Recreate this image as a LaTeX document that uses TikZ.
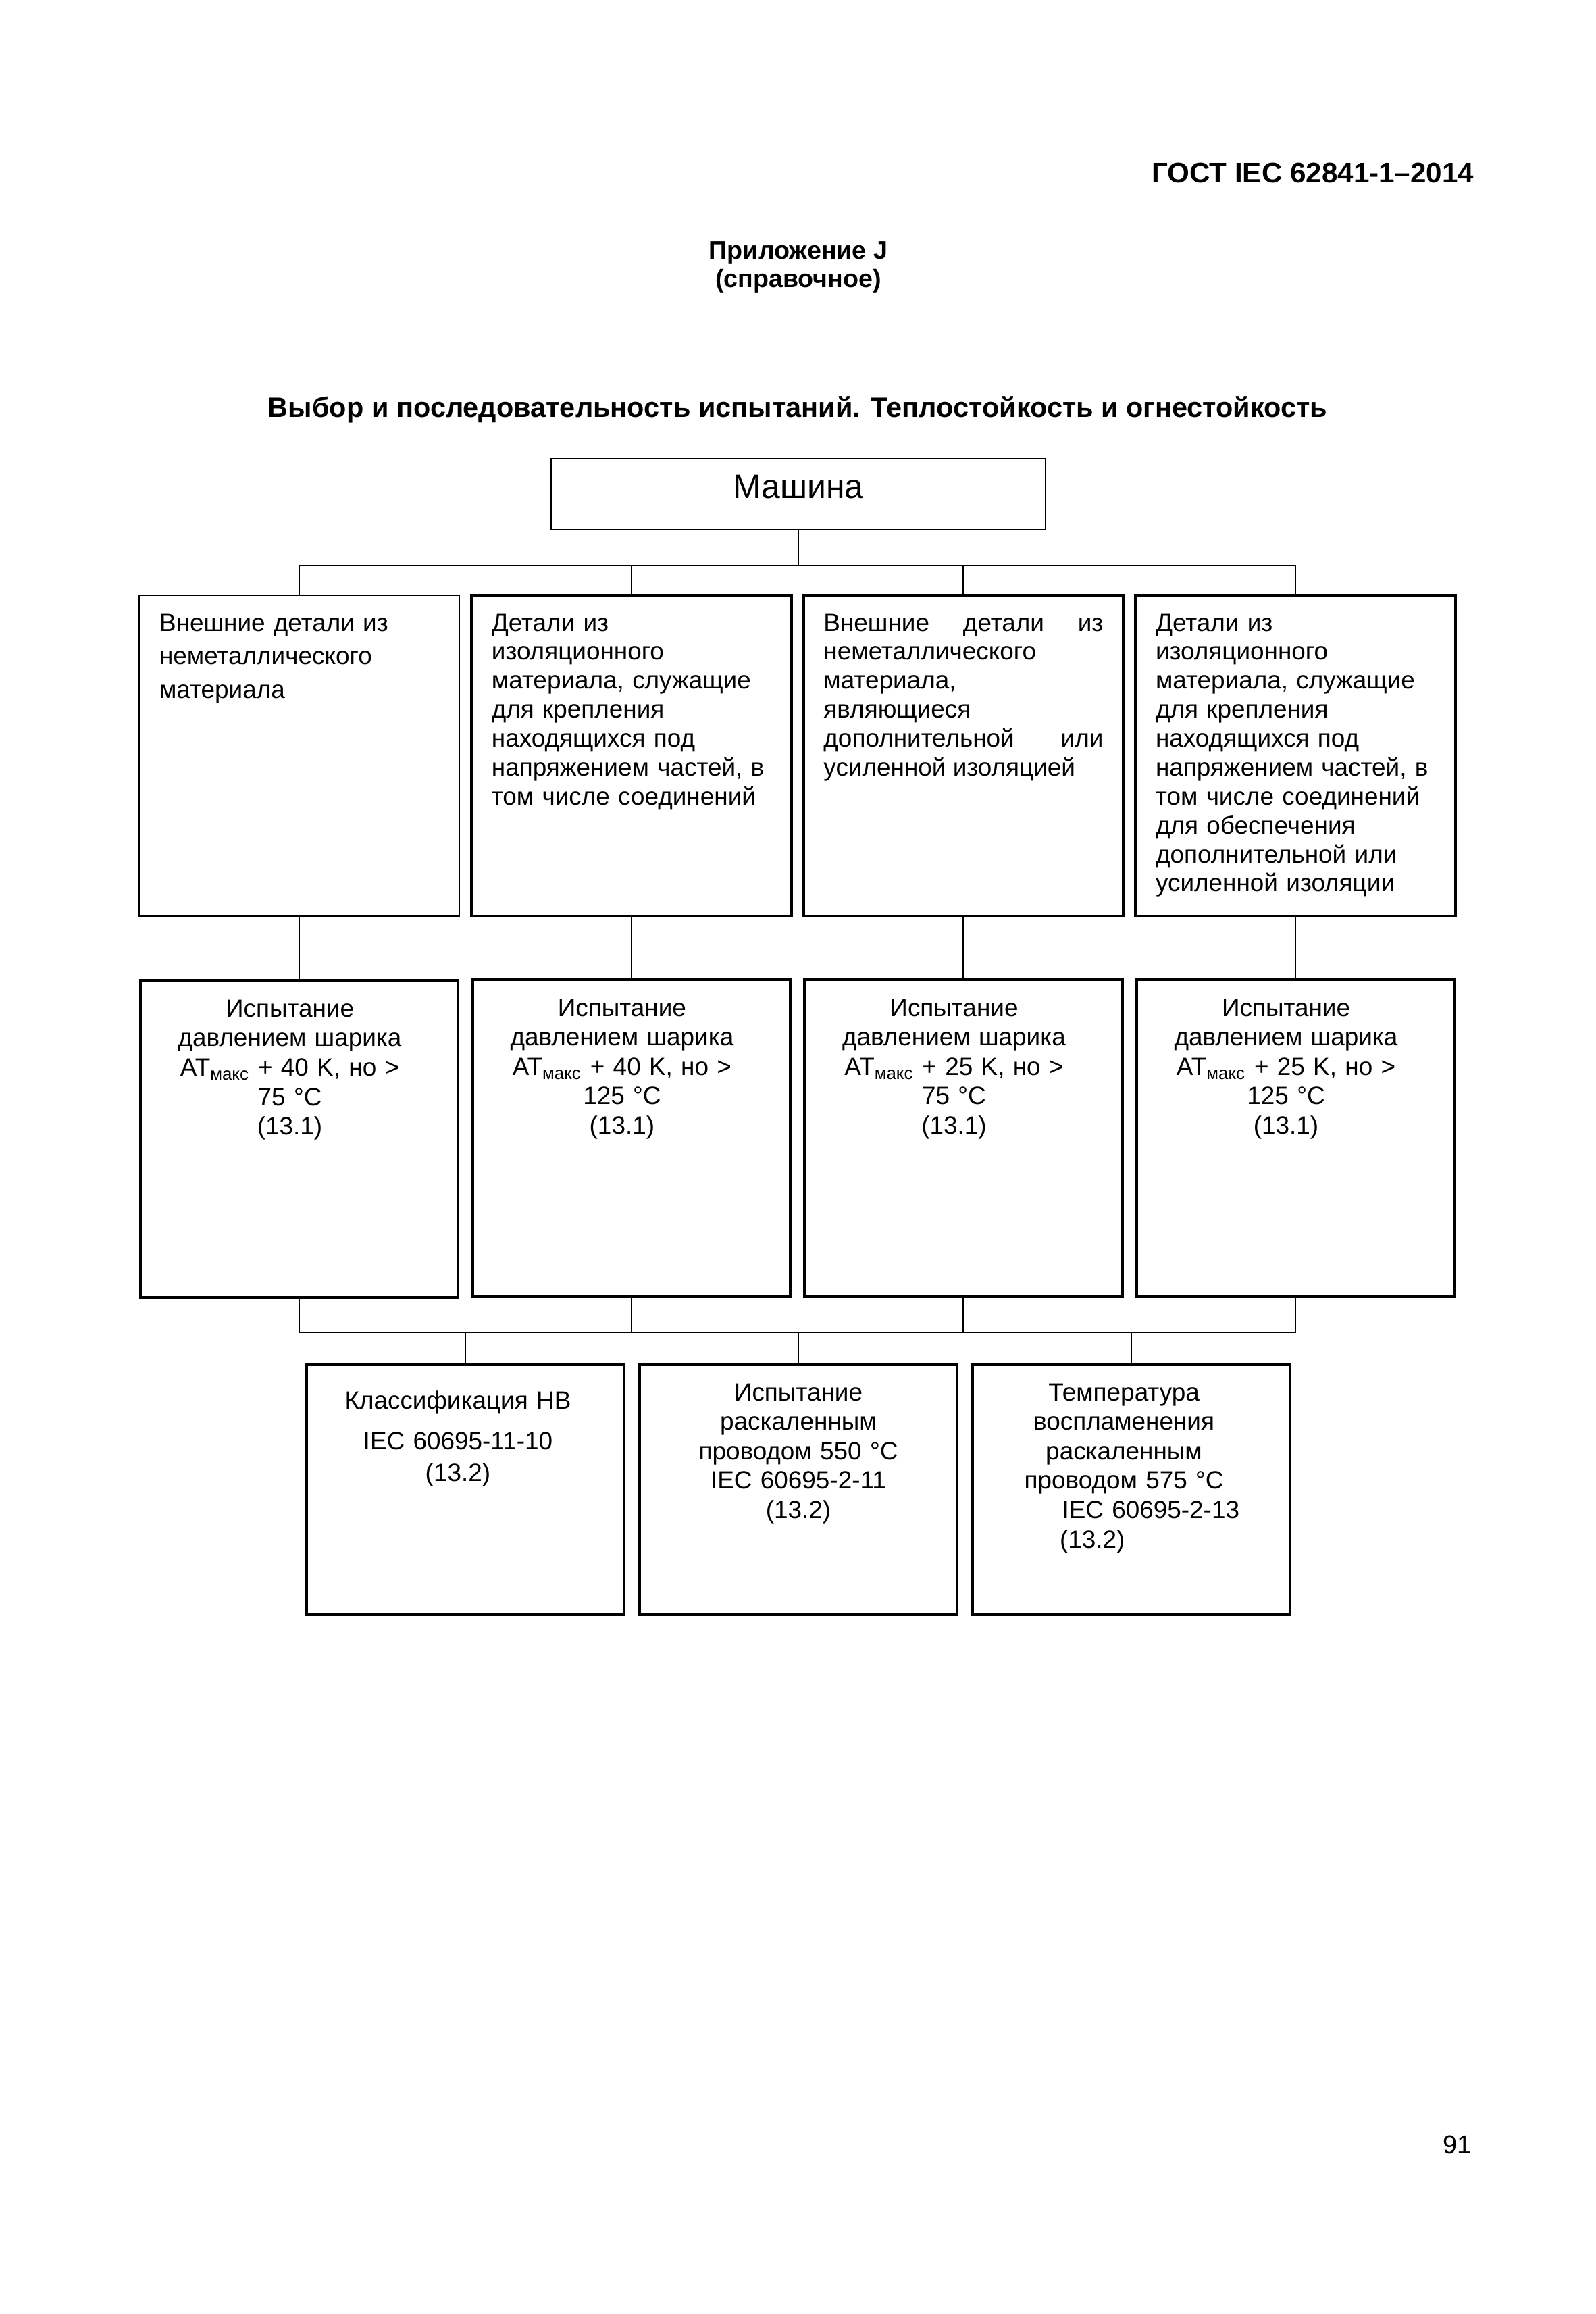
\documentclass[tikz,border=0pt]{standalone}
\usepackage{fontspec}
\setmainfont{Liberation Sans}
\usetikzlibrary{positioning}
\tikzset{
  link/.style={line width=0.6pt,draw=black},
  shifttext/.style={execute at begin node={\leftskip=0pt plus 1fill\rightskip=#1 plus 1fill}},
  machinebox/.style={draw=black,line width=0.6pt,minimum width=73.2mm,inner ysep=0pt,
    text height=5.8mm,text depth=4.7mm,font=\fontsize{14.2}{17}\selectfont},
  partbox/.style={draw=black,line width=1.3pt,text width=41.4mm,inner xsep=3mm,inner ysep=0pt,
    align=left,text height=5.3mm,text depth=42.2mm,font=\fontsize{10.5}{12.2}\selectfont},
  testbox/.style={draw=black,line width=1.3pt,text width=41mm,inner xsep=3mm,inner ysep=0pt,
    align=center,text height=5.4mm,text depth=41.5mm,font=\fontsize{10.5}{12.4}\selectfont,shifttext=2.8mm},
  firebox/.style={testbox,text depth=31.6mm,shifttext=0mm}
}

\begin{document}
\begin{tikzpicture}[x=1mm,y=1mm,node distance=8.95mm and 1.3mm]
    \useasboundingbox (0,0) rectangle (236.2,-342.5);
    % page head
    \node[anchor=base east,inner sep=0pt,font=\bfseries\fontsize{12}{14}\selectfont] (gost) at (218.3,-27.1) {ГОСТ IEC 62841-1–2014};
    \node[anchor=north,inner sep=0pt,align=center,font=\bfseries\fontsize{10.7}{11.8}\selectfont] (annex) at (118.2,-35.7) {Приложение J\\(справочное)};
    \node[anchor=base,inner sep=0pt,font=\bfseries\fontsize{11.8}{14}\selectfont] (title) at (118.1,-61.7) {Выбор и последовательность испытаний. Теплостойкость и огнестойкость};
    \node[machinebox,anchor=north] (machine) at (118.2,-67.8) {Машина};
    \coordinate[below=5.2mm of machine] (bus1);
    % parts
    \node[partbox,anchor=north west,line width=0.6pt,font=\fontsize{10.5}{14.1}\selectfont] (d1) at (20.5,-88) {Внешние детали из\\неметаллического\\материала};
    \node[partbox,right=1.45mm of d1] (d2) {Детали из\\изоляционного\\материала, служащие\\для крепления\\находящихся под\\напряжением частей, в\\том числе соединений};
    \node[partbox,right=of d2,align=justify] (d3) {Внешние детали из\linebreak неметаллического\linebreak материала,\linebreak являющиеся\linebreak дополнительной или\linebreak усиленной изоляцией};
    \node[partbox,right=of d3] (d4) {Детали из\\изоляционного\\материала, служащие\\для крепления\\находящихся под\\напряжением частей, в\\том числе соединений\\для обеспечения\\дополнительной или\\усиленной изоляции};
    % ball pressure tests
    \node[testbox,below=9.2mm of d1] (t1) {Испытание\\давлением шарика\\AT\textsubscript{макс} + 40 K, но >\\75 °C\\(13.1)};
    \node[testbox,below=of d2] (t2) {Испытание\\давлением шарика\\AT\textsubscript{макс} + 40 K, но >\\125 °C\\(13.1)};
    \node[testbox,below=of d3] (t3) {Испытание\\давлением шарика\\AT\textsubscript{макс} + 25 K, но >\\75 °C\\(13.1)};
    \node[testbox,below=of d4] (t4) {Испытание\\давлением шарика\\AT\textsubscript{макс} + 25 K, но >\\125 °C\\(13.1)};
    \coordinate (mid) at (t2.south -| machine);
    \coordinate[below=5.1mm of mid] (bus2);
    % fire tests
    \node[firebox,below=9.55mm of mid] (b2) {Испытание\\раскаленным\\проводом 550 °C\\IEC 60695-2-11\\(13.2)};
    \node[firebox,left=1.85mm of b2,shifttext=2.2mm,text height=6.6mm,text depth=30.4mm,font=\fontsize{10.5}{13.6}\selectfont] (b1) {Классификация HB\\[1.2mm]IEC 60695-11-10\\(13.2)};
    \node[firebox,right=1.85mm of b2,shifttext=2.2mm] (b3) {Температура\\воспламенения\\раскаленным\\проводом 575 °C\\\makebox[34.2mm][r]{IEC 60695-2-13}\\\makebox[19mm][l]{(13.2)}};
    \node[anchor=base east,inner sep=0pt,font=\fontsize{10.8}{13}\selectfont] (page) at (217.9,-318.7) {91};
    % connectors
    \draw[link] (machine) -- (bus1);
    \draw[link] (d1.north) |- (bus1) -| (d4.north);
    \draw[link] (d2) -- (d2 |- bus1);
    \draw[link] (d3) -- (d3 |- bus1);
    \draw[link] (d1) -- (t1);
    \draw[link] (d2) -- (t2);
    \draw[link] (d3) -- (t3);
    \draw[link] (d4) -- (t4);
    \draw[link] (t1.south) |- (bus2) -| (t4.south);
    \draw[link] (t2) -- (t2 |- bus2);
    \draw[link] (t3) -- (t3 |- bus2);
    \draw[link] (b1) -- (b1 |- bus2);
    \draw[link] (b2) -- (b2 |- bus2);
    \draw[link] (b3) -- (b3 |- bus2);
\end{tikzpicture}
\end{document}
